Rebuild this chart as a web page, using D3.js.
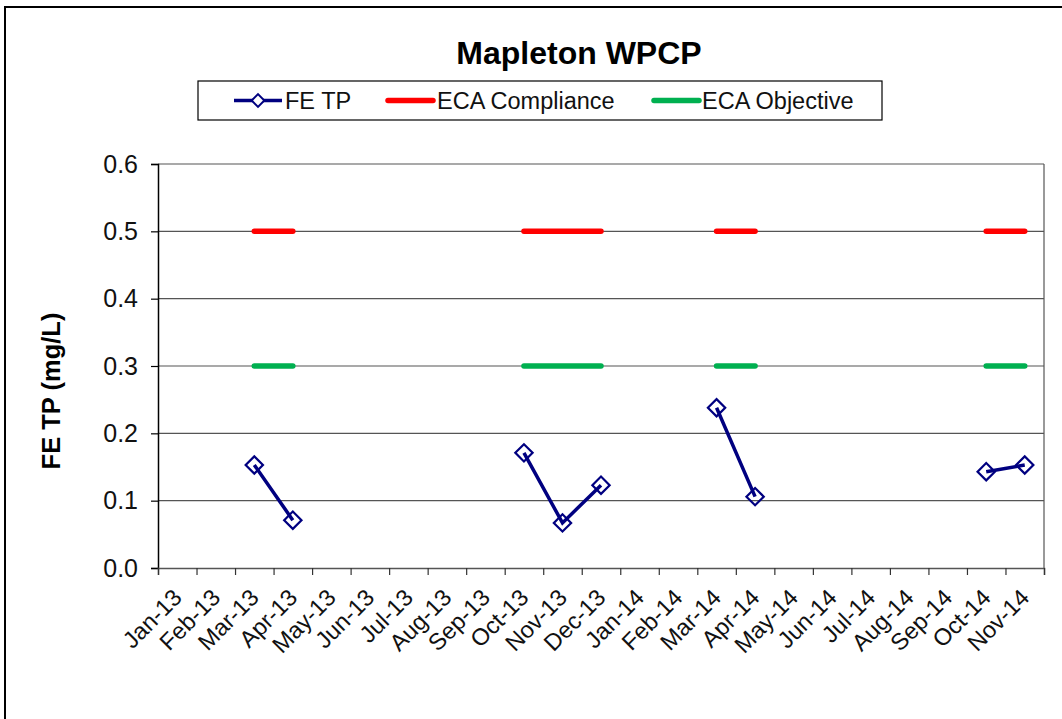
<!DOCTYPE html>
<html>
<head>
<meta charset="utf-8">
<script src="https://cdn.jsdelivr.net/npm/d3@7"></script>
<style>
  body { margin: 0; background: #fff; }
  svg { display: block; font-family: Arial, "Liberation Sans", sans-serif; }
</style>
</head>
<body>
<script>
// data
var months = ["Jan-13", "Feb-13", "Mar-13", "Apr-13", "May-13", "Jun-13", "Jul-13", "Aug-13",
  "Sep-13", "Oct-13", "Nov-13", "Dec-13", "Jan-14", "Feb-14", "Mar-14", "Apr-14", "May-14",
  "Jun-14", "Jul-14", "Aug-14", "Sep-14", "Oct-14", "Nov-14"];
var feTP = [null, null, 0.153, 0.071, null, null, null, null, null, 0.171, 0.067, 0.123,
  null, null, 0.238, 0.106, null, null, null, null, null, 0.143, 0.153];
var ecaCompliance = [null, null, 0.5, 0.5, null, null, null, null, null, 0.5, 0.5, 0.5,
  null, null, 0.5, 0.5, null, null, null, null, null, 0.5, 0.5];
var ecaObjective = [null, null, 0.3, 0.3, null, null, null, null, null, 0.3, 0.3, 0.3,
  null, null, 0.3, 0.3, null, null, null, null, null, 0.3, 0.3];
var yTicks = [0, 0.1, 0.2, 0.3, 0.4, 0.5, 0.6];

var W = 1062, H = 719;
var margin = {top: 164, right: 18, bottom: 151, left: 158};
var width = W - margin.left - margin.right,
    height = H - margin.top - margin.bottom;

var svg = d3.select("body").append("svg")
  .attr("width", W)
  .attr("height", H);

// chart border
svg.append("rect")
  .attr("x", 5).attr("y", 7)
  .attr("width", W + 20).attr("height", H + 20)
  .attr("fill", "none")
  .attr("stroke", "#000")
  .attr("stroke-width", 2);

// title
svg.append("text")
  .attr("x", 579).attr("y", 64)
  .attr("text-anchor", "middle")
  .style("font-size", "32px")
  .style("font-weight", "bold")
  .text("Mapleton WPCP");

var g = svg.append("g")
  .attr("transform", "translate(" + margin.left + "," + margin.top + ")");

var x = d3.scaleBand().domain(months).range([0, width]).padding(0);
var xEdge = d3.scaleLinear().domain([0, months.length]).range([0, width]);
var y = d3.scaleLinear().domain([0, 0.6]).range([height, 0]);

function cx(d, i) { return x(months[i]) + x.bandwidth() / 2; }

// grid lines
g.append("g")
  .selectAll("line")
  .data(yTicks.filter(function(d) { return d > 0; }))
  .enter().append("line")
  .attr("x1", 0).attr("x2", width)
  .attr("y1", function(d) { return y(d); })
  .attr("y2", function(d) { return y(d); })
  .attr("stroke", "#555")
  .attr("stroke-width", 1.2);

// right border of plot area
g.append("line")
  .attr("x1", width).attr("x2", width)
  .attr("y1", 0).attr("y2", height)
  .attr("stroke", "#555")
  .attr("stroke-width", 1.2);

// y axis
var yAxis = g.append("g")
  .call(d3.axisLeft(y).tickValues(yTicks).tickFormat(d3.format(".1f")).tickSize(7).tickPadding(13));
yAxis.select(".domain").attr("stroke", "#000").attr("stroke-width", 1.5);
yAxis.selectAll(".tick line").attr("stroke", "#000").attr("stroke-width", 1.2);
yAxis.selectAll("text")
  .style("font-size", "25px")
  .attr("fill", "#111");

// x axis ticks on category edges
var xTickAxis = g.append("g")
  .attr("transform", "translate(0," + height + ")")
  .call(d3.axisBottom(xEdge).tickValues(d3.range(months.length + 1)).tickFormat("").tickSize(7));
xTickAxis.select(".domain").attr("stroke", "#555").attr("stroke-width", 1.5);
xTickAxis.selectAll(".tick line").attr("stroke", "#333").attr("stroke-width", 1.2);

// x axis labels
var xLabelAxis = g.append("g")
  .attr("transform", "translate(0," + height + ")")
  .call(d3.axisBottom(x).tickSize(0).tickPadding(0));
xLabelAxis.select(".domain").remove();
xLabelAxis.selectAll("text")
  .attr("text-anchor", "end")
  .attr("dy", null)
  .attr("transform", "translate(6,31) rotate(-45)")
  .attr("x", 0).attr("y", 0)
  .style("font-size", "23.5px")
  .attr("fill", "#111");

// y axis title
svg.append("text")
  .attr("transform", "translate(60,391) rotate(-90)")
  .attr("text-anchor", "middle")
  .style("font-size", "25.5px")
  .style("font-weight", "bold")
  .text("FE TP (mg/L)");

// series
var line = d3.line()
  .defined(function(d) { return d != null; })
  .x(cx)
  .y(function(d) { return y(d); });

g.append("path")
  .datum(ecaCompliance)
  .attr("d", line)
  .attr("fill", "none")
  .attr("stroke", "#ff0000")
  .attr("stroke-width", 5.5)
  .attr("stroke-linecap", "round");

g.append("path")
  .datum(ecaObjective)
  .attr("d", line)
  .attr("fill", "none")
  .attr("stroke", "#00b050")
  .attr("stroke-width", 5.5)
  .attr("stroke-linecap", "round");

g.append("path")
  .datum(feTP)
  .attr("d", line)
  .attr("fill", "none")
  .attr("stroke", "#000080")
  .attr("stroke-width", 3.5);

var diamond = d3.symbol().type(d3.symbolSquare).size(150);
g.selectAll(".marker")
  .data(feTP.map(function(v, i) { return {v: v, i: i}; }).filter(function(d) { return d.v != null; }))
  .enter().append("path")
  .attr("class", "marker")
  .attr("d", diamond)
  .attr("transform", function(d) {
    return "translate(" + cx(d.v, d.i) + "," + y(d.v) + ") rotate(45)";
  })
  .attr("fill", "none")
  .attr("stroke", "#000080")
  .attr("stroke-width", 2.2);

// legend
var legend = svg.append("g");
legend.append("rect")
  .attr("x", 198).attr("y", 81)
  .attr("width", 684).attr("height", 39)
  .attr("fill", "#fff")
  .attr("stroke", "#000")
  .attr("stroke-width", 1.2);

var legendItems = [
  {name: "FE TP", color: "#000080", w: 3.5, x1: 234, x2: 282, tx: 285, marker: true},
  {name: "ECA Compliance", color: "#ff0000", w: 5.5, x1: 388, x2: 433, tx: 437},
  {name: "ECA Objective", color: "#00b050", w: 5.5, x1: 654, x2: 699, tx: 702}
];
var ly = 100.5;
legendItems.forEach(function(it) {
  legend.append("line")
    .attr("x1", it.x1).attr("x2", it.x2)
    .attr("y1", ly).attr("y2", ly)
    .attr("stroke", it.color)
    .attr("stroke-width", it.w)
    .attr("stroke-linecap", it.marker ? "butt" : "round");
  if (it.marker) {
    legend.append("path")
      .attr("d", d3.symbol().type(d3.symbolSquare).size(80))
      .attr("transform", "translate(" + ((it.x1 + it.x2) / 2) + "," + ly + ") rotate(45)")
      .attr("fill", "#fff")
      .attr("stroke", it.color)
      .attr("stroke-width", 2);
  }
  legend.append("text")
    .attr("x", it.tx).attr("y", ly + 8.5)
    .style("font-size", "23.5px")
    .attr("fill", "#111")
    .text(it.name);
});
</script>
</body>
</html>
